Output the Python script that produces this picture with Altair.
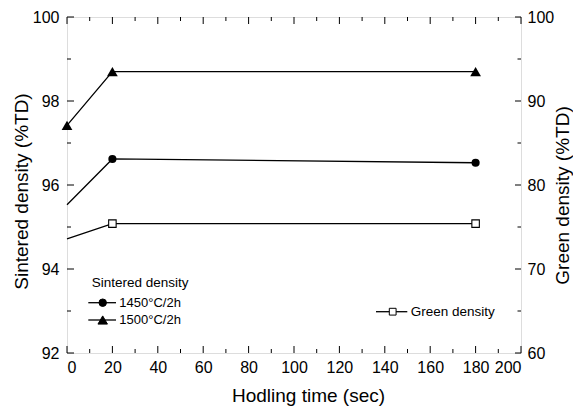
import altair as alt
import pandas as pd

# ---------------- data ----------------
times = [0, 20, 180]
sd_1450 = [95.53, 96.62, 96.53]
sd_1500 = [97.42, 98.70, 98.70]
green = [73.6, 75.4, 75.4]
marker_1450 = [False, True, True]
marker_1500 = [True, True, True]
marker_green = [False, True, True]

x_major = list(range(0, 201, 20))
x_minor = list(range(10, 200, 20))
yl_major = [92, 94, 96, 98, 100]
yl_minor = [93, 95, 97, 99]
yr_major = [60, 70, 80, 90, 100]
yr_minor = [65, 75, 85, 95]

FONT = "Liberation Sans"
W, H = 454, 336

sint = pd.DataFrame({
    "series": ["1450"] * 3 + ["1500"] * 3,
    "time": times + times,
    "density": sd_1450 + sd_1500,
    "marker": marker_1450 + marker_1500,
})
grn = pd.DataFrame({"time": times, "green": green, "marker": marker_green})

x_scale = alt.Scale(domain=[0, 200], nice=False, zero=False)
yl_scale = alt.Scale(domain=[92, 100], nice=False, zero=False)
yr_scale = alt.Scale(domain=[60, 100], nice=False, zero=False)

x_axis = alt.Axis(title="Hodling time (sec)", values=x_major, ticks=False, domain=False,
                  grid=False, labelFontSize=16, labelPadding=6, labelFont=FONT,
                  titleFont=FONT, titleFontSize=19, titleFontWeight="normal",
                  titleX=241, titleY=48, titleBaseline="alphabetic", titleAlign="center",
                  labelColor="black", titleColor="black")
yl_axis = alt.Axis(title="Sintered density (%TD)", values=yl_major, ticks=False, domain=False,
                   grid=False, labelFontSize=16, labelPadding=8, labelFont=FONT,
                   titleFont=FONT, titleFontSize=19, titleFontWeight="normal",
                   titleX=-46, titleY=174, titleAngle=270, titleBaseline="middle",
                   titleAlign="center", labelColor="black", titleColor="black")
yr_axis = alt.Axis(title="Green density (%TD)", orient="right", values=yr_major, ticks=False,
                   domain=False, grid=False, labelFontSize=16, labelPadding=6, labelFont=FONT,
                   titleFont=FONT, titleFontSize=19, titleFontWeight="normal",
                   titleX=41, titleY=178, titleAngle=270, titleBaseline="middle",
                   titleAlign="center", labelColor="black", titleColor="black")

X = alt.X("time:Q", scale=x_scale, axis=x_axis)
YL = alt.Y("density:Q", scale=yl_scale, axis=yl_axis)
YR = alt.Y("green:Q", scale=yr_scale, axis=yr_axis)

# ---------------- inward ticks ----------------
def xticks(vals, length):
    d = pd.DataFrame({"time": vals})
    bot = alt.Chart(d).mark_rule(color="black", strokeWidth=1).encode(
        x=X, y=alt.value(H), y2=alt.value(H - length))
    top = alt.Chart(d).mark_rule(color="black", strokeWidth=1).encode(
        x=X, y=alt.value(0), y2=alt.value(length))
    return [bot, top]

def ylticks(vals, length):
    d = pd.DataFrame({"density": vals})
    return alt.Chart(d).mark_rule(color="black", strokeWidth=1).encode(
        y=YL, x=alt.value(0), x2=alt.value(length))

def yrticks(vals, length):
    d = pd.DataFrame({"green": vals})
    return alt.Chart(d).mark_rule(color="black", strokeWidth=1).encode(
        y=YR, x=alt.value(W), x2=alt.value(W - length))

# ---------------- series ----------------
sint_lines = alt.Chart(sint).mark_line(color="black", strokeWidth=1.3).encode(
    x=X, y=YL, detail="series:N")
sint_pts = alt.Chart(sint).transform_filter("datum.marker").mark_point(
    filled=True, color="black", opacity=1).encode(
    x=X, y=YL,
    shape=alt.Shape("series:N", scale=alt.Scale(domain=["1450", "1500"],
                                                range=["circle", "triangle-up"]), legend=None),
    size=alt.Size("series:N", scale=alt.Scale(domain=["1450", "1500"], range=[66, 115]),
                  legend=None))

grn_line = alt.Chart(grn).mark_line(color="black", strokeWidth=1.3).encode(x=X, y=YR)
grn_pts = alt.Chart(grn).transform_filter("datum.marker").mark_point(
    shape="square", filled=True, fill="white", stroke="black", strokeWidth=1.1,
    size=56, opacity=1).encode(x=X, y=YR)

# ---------------- custom legends ----------------
one = alt.Data(values=[{"a": 1}])

def ltext(txt, x, y, size):
    return alt.Chart(one).mark_text(align="left", baseline="middle", font=FONT,
                                    fontSize=size, color="black").encode(
        x=alt.value(x), y=alt.value(y), text=alt.value(txt))

def lline(x1, x2, y):
    return alt.Chart(one).mark_rule(color="black", strokeWidth=1.3).encode(
        x=alt.value(x1), x2=alt.value(x2), y=alt.value(y))

def lpoint(x, y, shape, size, fill):
    return alt.Chart(one).mark_point(shape=shape, filled=True, fill=fill, stroke="black",
                                     strokeWidth=1, size=size, opacity=1).encode(
        x=alt.value(x), y=alt.value(y))

legend = [
    ltext("Sintered density", 24.7, 265.7, 13.5),
    lline(21.3, 49, 285.7), lpoint(35.7, 285.7, "circle", 56, "black"),
    ltext("1450°C/2h", 52.3, 285.7, 13),
    lline(21.3, 49, 303), lpoint(35.7, 303, "triangle-up", 90, "black"),
    ltext("1500°C/2h", 52.3, 303, 13),
    lline(309, 340.3, 294.7), lpoint(325.7, 294.7, "square", 46, "white"),
    ltext("Green density", 343.7, 294.7, 13.5),
]

left = alt.layer(
    *xticks(x_major, 7), *xticks(x_minor, 4),
    ylticks(yl_major, 7), ylticks(yl_minor, 4),
    sint_lines, sint_pts, *legend,
)
right = alt.layer(
    yrticks(yr_major, 6), yrticks(yr_minor, 3.5),
    grn_line, grn_pts,
)

chart = alt.layer(left, right).resolve_scale(y="independent").properties(
    width=W, height=H,
    autosize=alt.AutoSizeParams(type="none"),
    padding={"left": 67, "top": 17, "right": 52, "bottom": 53},
    background="white",
).configure_view(stroke="black", strokeWidth=1.6).configure(font=FONT)

chart.save("out.html", embed_options={"renderer": "svg", "actions": False})
